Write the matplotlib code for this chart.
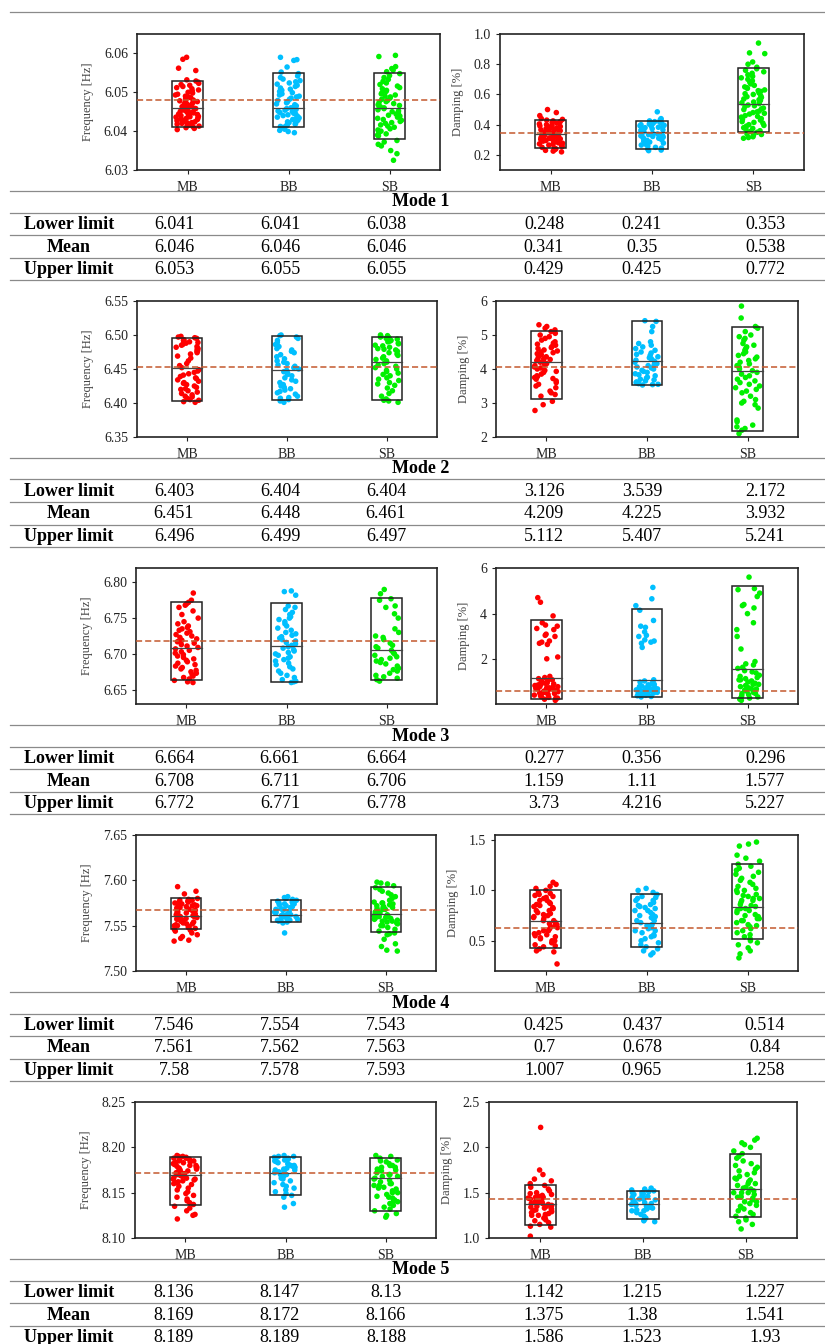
import numpy as np
import matplotlib
matplotlib.use("Agg")
import matplotlib.pyplot as plt
import seaborn as sns
from matplotlib.patches import Rectangle
from matplotlib.lines import Line2D

plt.rcParams['font.family'] = ['Liberation Serif', 'DejaVu Serif']

groups = ["MB", "BB", "SB"]
colors = {"MB": "#ff0000", "BB": "#00bfff", "SB": "#00f000"}

# ---- identified values ----
m1_freq_mb = [6.0404, 6.0407, 6.0409, 6.0412, 6.0413, 6.0415, 6.0417, 6.0418, 6.042, 6.0421, 6.0422, 6.0424,
              6.0425, 6.0427, 6.0429, 6.043, 6.0431, 6.0433, 6.0434, 6.0436, 6.0437, 6.0438, 6.044, 6.0441,
              6.0443, 6.0444, 6.0446, 6.0447, 6.0448, 6.045, 6.0451, 6.0452, 6.0454, 6.0455, 6.0457, 6.0458,
              6.0459, 6.0461, 6.0462, 6.0463, 6.0465, 6.0466, 6.0468, 6.047, 6.0471, 6.0473, 6.0475, 6.0476,
              6.0478, 6.048, 6.0482, 6.0484, 6.0486, 6.0488, 6.049, 6.0493, 6.0495, 6.0498, 6.05, 6.0503,
              6.0506, 6.0509, 6.0512, 6.0515, 6.0518, 6.052, 6.0523, 6.0526, 6.0529, 6.0532, 6.0556, 6.0562,
              6.0585, 6.059]
m1_freq_bb = [6.0396, 6.0399, 6.0402, 6.0405, 6.0407, 6.041, 6.0412, 6.0414, 6.0416, 6.0418, 6.042, 6.0422,
              6.0424, 6.0426, 6.0428, 6.043, 6.0432, 6.0434, 6.0436, 6.0438, 6.044, 6.0442, 6.0444, 6.0446,
              6.0448, 6.045, 6.0452, 6.0454, 6.0456, 6.0458, 6.046, 6.0463, 6.0465, 6.0468, 6.047, 6.0473,
              6.0476, 6.0479, 6.0482, 6.0485, 6.0488, 6.049, 6.0493, 6.0496, 6.0499, 6.0502, 6.0505, 6.0508,
              6.0511, 6.0515, 6.0518, 6.0521, 6.0524, 6.0527, 6.053, 6.0534, 6.0538, 6.0542, 6.0548, 6.0552,
              6.0565, 6.0582, 6.0584, 6.059]
m1_freq_sb = [6.0325, 6.0342, 6.035, 6.0362, 6.0366, 6.0372, 6.0376, 6.0388, 6.039, 6.0393, 6.0396, 6.04,
              6.0403, 6.0406, 6.041, 6.0413, 6.0416, 6.042, 6.0422, 6.0425, 6.0428, 6.043, 6.0433, 6.0436,
              6.0439, 6.0441, 6.0444, 6.0447, 6.045, 6.0452, 6.0455, 6.0458, 6.046, 6.0463, 6.0466, 6.0468,
              6.0471, 6.0474, 6.0476, 6.0479, 6.0482, 6.0485, 6.0488, 6.049, 6.0493, 6.0496, 6.0499, 6.0502,
              6.0505, 6.0509, 6.0512, 6.0516, 6.052, 6.0524, 6.0528, 6.0533, 6.0538, 6.0543, 6.0548, 6.0553,
              6.0557, 6.0561, 6.0566, 6.0592, 6.0595]
m1_damp_mb = [0.22, 0.225, 0.23, 0.235, 0.24, 0.245, 0.25, 0.255, 0.26, 0.265, 0.27, 0.273, 0.277, 0.28,
              0.284, 0.288, 0.291, 0.295, 0.298, 0.30, 0.303, 0.306, 0.309, 0.312, 0.315, 0.318, 0.321,
              0.324, 0.327, 0.33, 0.333, 0.336, 0.339, 0.342, 0.345, 0.348, 0.351, 0.354, 0.357, 0.36,
              0.363, 0.366, 0.37, 0.373, 0.377, 0.38, 0.384, 0.388, 0.392, 0.396, 0.40, 0.405, 0.41,
              0.415, 0.42, 0.425, 0.43, 0.435, 0.44, 0.46, 0.48, 0.50]
m1_damp_bb = [0.228, 0.232, 0.238, 0.245, 0.25, 0.258, 0.265, 0.27, 0.278, 0.285, 0.29, 0.296, 0.30, 0.305,
              0.31, 0.314, 0.318, 0.322, 0.326, 0.33, 0.334, 0.338, 0.342, 0.346, 0.35, 0.353, 0.356, 0.36,
              0.363, 0.366, 0.37, 0.373, 0.376, 0.38, 0.383, 0.386, 0.39, 0.393, 0.396, 0.40, 0.404, 0.408,
              0.412, 0.416, 0.42, 0.425, 0.43, 0.435, 0.44, 0.485]
m1_damp_sb = [0.31, 0.315, 0.32, 0.33, 0.335, 0.34, 0.35, 0.355, 0.36, 0.37, 0.375, 0.38, 0.39, 0.395, 0.40,
              0.41, 0.415, 0.42, 0.43, 0.435, 0.44, 0.45, 0.455, 0.46, 0.47, 0.475, 0.48, 0.485, 0.49, 0.50,
              0.505, 0.51, 0.52, 0.525, 0.53, 0.54, 0.545, 0.55, 0.56, 0.565, 0.57, 0.58, 0.585, 0.59, 0.60,
              0.605, 0.61, 0.62, 0.625, 0.63, 0.64, 0.645, 0.65, 0.66, 0.67, 0.68, 0.69, 0.70, 0.71, 0.72,
              0.73, 0.74, 0.75, 0.76, 0.77, 0.78, 0.80, 0.815, 0.87, 0.875, 0.94]

m2_freq_mb = [6.401, 6.402, 6.404, 6.405, 6.407, 6.409, 6.41, 6.412, 6.414, 6.416, 6.418, 6.42, 6.421, 6.423,
              6.425, 6.427, 6.429, 6.43, 6.432, 6.434, 6.436, 6.437, 6.439, 6.441, 6.443, 6.445, 6.447, 6.449,
              6.452, 6.455, 6.458, 6.462, 6.466, 6.469, 6.472, 6.474, 6.476, 6.477, 6.479, 6.48, 6.482, 6.483,
              6.485, 6.486, 6.488, 6.489, 6.49, 6.492, 6.493, 6.495, 6.496, 6.497, 6.498]
m2_freq_bb = [6.401, 6.403, 6.405, 6.407, 6.408, 6.41, 6.413, 6.415, 6.417, 6.419, 6.421, 6.423, 6.425, 6.427,
              6.43, 6.432, 6.434, 6.437, 6.44, 6.442, 6.444, 6.446, 6.448, 6.45, 6.452, 6.454, 6.456, 6.458,
              6.46, 6.462, 6.465, 6.468, 6.471, 6.474, 6.476, 6.478, 6.48, 6.483, 6.486, 6.489, 6.492, 6.495,
              6.497, 6.499, 6.5]
m2_freq_sb = [6.401, 6.403, 6.404, 6.406, 6.41, 6.414, 6.418, 6.422, 6.426, 6.428, 6.43, 6.433, 6.435, 6.437,
              6.44, 6.442, 6.444, 6.446, 6.448, 6.45, 6.452, 6.454, 6.456, 6.458, 6.46, 6.462, 6.464, 6.466,
              6.468, 6.47, 6.472, 6.474, 6.476, 6.478, 6.479, 6.48, 6.482, 6.484, 6.485, 6.487, 6.488, 6.49,
              6.491, 6.492, 6.494, 6.495, 6.496, 6.497, 6.498, 6.499, 6.5]
m2_damp_mb = [2.78, 2.95, 3.05, 3.2, 3.25, 3.3, 3.35, 3.45, 3.5, 3.55, 3.6, 3.65, 3.7, 3.72, 3.75, 3.78, 3.8,
              3.85, 3.9, 3.93, 3.96, 4.0, 4.03, 4.06, 4.1, 4.13, 4.16, 4.2, 4.22, 4.25, 4.28, 4.3, 4.33, 4.36,
              4.4, 4.42, 4.45, 4.48, 4.5, 4.53, 4.56, 4.6, 4.63, 4.66, 4.7, 4.73, 4.76, 4.8, 4.85, 4.9, 4.95,
              5.0, 5.05, 5.1, 5.15, 5.2, 5.25, 5.3]
m2_damp_bb = [3.53, 3.54, 3.55, 3.57, 3.6, 3.62, 3.65, 3.68, 3.7, 3.73, 3.76, 3.8, 3.83, 3.86, 3.9, 3.93, 3.96,
              4.0, 4.03, 4.06, 4.1, 4.13, 4.16, 4.2, 4.23, 4.26, 4.3, 4.33, 4.36, 4.4, 4.43, 4.47, 4.5, 4.55,
              4.6, 4.65, 4.7, 4.75, 4.8, 5.1, 5.25, 5.4, 5.42]
m2_damp_sb = [2.1, 2.2, 2.25, 2.3, 2.35, 2.45, 2.5, 2.85, 2.95, 3.0, 3.05, 3.1, 3.2, 3.3, 3.35, 3.4, 3.45, 3.5,
              3.55, 3.6, 3.65, 3.7, 3.75, 3.8, 3.85, 3.9, 3.95, 4.0, 4.05, 4.1, 4.15, 4.2, 4.25, 4.3, 4.35,
              4.4, 4.45, 4.5, 4.55, 4.6, 4.65, 4.7, 4.75, 4.85, 4.9, 4.95, 5.0, 5.1, 5.2, 5.25, 5.5, 5.85]

m3_freq_mb = [6.66, 6.661, 6.663, 6.665, 6.667, 6.669, 6.671, 6.673, 6.675, 6.677, 6.679, 6.681, 6.683, 6.685,
              6.687, 6.689, 6.691, 6.693, 6.695, 6.697, 6.699, 6.701, 6.703, 6.705, 6.707, 6.709, 6.711, 6.713,
              6.715, 6.717, 6.719, 6.721, 6.723, 6.725, 6.727, 6.729, 6.731, 6.733, 6.735, 6.737, 6.739, 6.742,
              6.745, 6.75, 6.755, 6.76, 6.765, 6.768, 6.77, 6.772, 6.775, 6.785]
m3_freq_bb = [6.66, 6.661, 6.662, 6.664, 6.667, 6.67, 6.673, 6.676, 6.679, 6.682, 6.685, 6.687, 6.69, 6.692,
              6.694, 6.696, 6.698, 6.7, 6.702, 6.704, 6.706, 6.708, 6.71, 6.712, 6.714, 6.716, 6.718, 6.72,
              6.722, 6.724, 6.726, 6.728, 6.73, 6.733, 6.736, 6.739, 6.742, 6.745, 6.748, 6.75, 6.752, 6.755,
              6.758, 6.762, 6.765, 6.767, 6.782, 6.787, 6.788]
m3_freq_sb = [6.662, 6.664, 6.666, 6.668, 6.67, 6.673, 6.676, 6.678, 6.68, 6.683, 6.686, 6.688, 6.69, 6.692,
              6.694, 6.696, 6.698, 6.7, 6.702, 6.705, 6.708, 6.71, 6.712, 6.715, 6.72, 6.723, 6.725, 6.73,
              6.735, 6.75, 6.756, 6.765, 6.767, 6.775, 6.777, 6.784, 6.79]
m3_damp_mb = [0.2, 0.25, 0.3, 0.33, 0.36, 0.4, 0.43, 0.46, 0.5, 0.52, 0.55, 0.58, 0.6, 0.62, 0.65, 0.67, 0.7,
              0.72, 0.75, 0.77, 0.8, 0.82, 0.85, 0.87, 0.9, 0.92, 0.95, 0.97, 1.0, 1.03, 1.06, 1.1, 1.15, 1.2,
              1.25, 0.3, 0.45, 0.55, 0.65, 0.7, 0.75, 0.8, 0.9, 0.6, 0.85, 2.02, 2.1, 2.65, 2.7, 2.75, 2.8,
              3.0, 3.05, 3.1, 3.3, 3.35, 3.45, 3.5, 3.6, 3.9, 4.5, 4.7]
m3_damp_bb = [0.35, 0.37, 0.4, 0.42, 0.45, 0.47, 0.5, 0.52, 0.55, 0.57, 0.6, 0.62, 0.64, 0.66, 0.68, 0.7, 0.72,
              0.74, 0.76, 0.78, 0.8, 0.82, 0.85, 0.88, 0.9, 0.95, 1.0, 1.05, 1.1, 0.5, 0.6, 0.7, 0.45, 0.55,
              0.65, 2.52, 2.7, 2.75, 2.8, 2.85, 3.0, 3.05, 3.2, 3.4, 3.45, 3.7, 4.15, 4.35, 4.65, 5.15]
m3_damp_sb = [0.2, 0.25, 0.3, 0.35, 0.4, 0.45, 0.5, 0.55, 0.6, 0.65, 0.7, 0.75, 0.8, 0.85, 0.9, 0.95, 1.0,
              1.05, 1.1, 1.15, 1.2, 1.25, 1.3, 1.4, 1.45, 1.5, 1.6, 1.65, 1.75, 1.8, 1.9, 0.3, 0.5, 0.7, 0.9,
              1.1, 2.45, 3.0, 3.3, 3.6, 4.0, 4.25, 4.35, 4.4, 4.75, 4.9, 5.05, 5.1, 5.6]

m4_freq_mb = [7.533, 7.534, 7.536, 7.538, 7.54, 7.542, 7.544, 7.545, 7.546, 7.547, 7.548, 7.549, 7.55, 7.551,
              7.552, 7.553, 7.554, 7.555, 7.556, 7.557, 7.558, 7.559, 7.56, 7.561, 7.562, 7.563, 7.564, 7.565,
              7.566, 7.567, 7.568, 7.569, 7.57, 7.571, 7.572, 7.573, 7.574, 7.575, 7.576, 7.577, 7.578, 7.579,
              7.58, 7.55, 7.555, 7.56, 7.565, 7.57, 7.575, 7.552, 7.558, 7.562, 7.568, 7.572, 7.578, 7.585,
              7.588, 7.593]
m4_freq_bb = [7.542, 7.553, 7.554, 7.555, 7.556, 7.557, 7.558, 7.559, 7.56, 7.561, 7.562, 7.563, 7.564, 7.565,
              7.566, 7.567, 7.568, 7.569, 7.57, 7.571, 7.572, 7.573, 7.574, 7.575, 7.576, 7.577, 7.578, 7.579,
              7.58, 7.581, 7.582, 7.556, 7.559, 7.562, 7.565, 7.568, 7.571, 7.574]
m4_freq_sb = [7.522, 7.523, 7.527, 7.53, 7.535, 7.54, 7.541, 7.542, 7.544, 7.546, 7.548, 7.55, 7.551, 7.552,
              7.553, 7.554, 7.555, 7.556, 7.557, 7.558, 7.559, 7.56, 7.561, 7.562, 7.563, 7.564, 7.565, 7.566,
              7.567, 7.568, 7.569, 7.57, 7.571, 7.572, 7.573, 7.574, 7.575, 7.576, 7.578, 7.58, 7.582, 7.584,
              7.586, 7.588, 7.59, 7.592, 7.594, 7.596, 7.597, 7.598, 7.55, 7.555, 7.56, 7.565, 7.57, 7.575,
              7.558, 7.562, 7.568]
m4_damp_mb = [0.27, 0.39, 0.4, 0.42, 0.44, 0.46, 0.48, 0.5, 0.52, 0.54, 0.56, 0.58, 0.6, 0.62, 0.64, 0.66,
              0.68, 0.7, 0.72, 0.74, 0.76, 0.78, 0.8, 0.82, 0.84, 0.86, 0.88, 0.9, 0.92, 0.94, 0.96, 0.98, 1.0,
              1.02, 1.04, 1.06, 1.08, 0.5, 0.55, 0.6, 0.65, 0.7, 0.75, 0.8, 0.85, 0.9, 0.95, 0.45, 0.53, 0.63,
              0.73, 0.83, 0.93, 0.57, 0.67, 0.77, 0.87, 0.97]
m4_damp_bb = [0.36, 0.38, 0.4, 0.42, 0.44, 0.46, 0.48, 0.5, 0.52, 0.54, 0.56, 0.58, 0.6, 0.62, 0.64, 0.66,
              0.68, 0.7, 0.72, 0.74, 0.76, 0.78, 0.8, 0.82, 0.84, 0.86, 0.88, 0.9, 0.92, 0.94, 0.96, 0.98, 1.0,
              1.02, 0.55, 0.6, 0.65, 0.7, 0.75, 0.8, 0.85, 0.9, 0.63, 0.73, 0.83, 0.93]
m4_damp_sb = [0.33, 0.37, 0.4, 0.43, 0.46, 0.48, 0.5, 0.52, 0.54, 0.56, 0.58, 0.6, 0.62, 0.64, 0.66, 0.68,
              0.7, 0.72, 0.74, 0.76, 0.78, 0.8, 0.82, 0.84, 0.86, 0.88, 0.9, 0.92, 0.94, 0.96, 0.98, 1.0, 1.02,
              1.04, 1.06, 1.08, 1.1, 1.12, 1.14, 1.16, 1.18, 1.2, 1.22, 1.24, 1.26, 1.29, 1.32, 1.35, 1.44,
              1.46, 1.48, 0.7, 0.75, 0.8, 0.85, 0.9, 0.95, 1.0, 0.65, 0.72, 0.82, 0.92]

m5_freq_mb = [8.121, 8.125, 8.126, 8.13, 8.133, 8.135, 8.137, 8.139, 8.141, 8.143, 8.145, 8.147, 8.149, 8.151,
              8.153, 8.155, 8.157, 8.159, 8.16, 8.161, 8.162, 8.163, 8.164, 8.165, 8.166, 8.167, 8.168, 8.169,
              8.17, 8.171, 8.172, 8.173, 8.174, 8.175, 8.176, 8.177, 8.178, 8.179, 8.18, 8.181, 8.182, 8.183,
              8.184, 8.185, 8.186, 8.187, 8.188, 8.189, 8.19, 8.191, 8.165, 8.17, 8.175, 8.18, 8.185, 8.19,
              8.172, 8.178, 8.183, 8.188]
m5_freq_bb = [8.134, 8.138, 8.145, 8.147, 8.149, 8.151, 8.153, 8.155, 8.157, 8.159, 8.161, 8.163, 8.165, 8.166,
              8.167, 8.168, 8.169, 8.17, 8.171, 8.172, 8.173, 8.174, 8.175, 8.176, 8.177, 8.178, 8.179, 8.18,
              8.181, 8.182, 8.183, 8.184, 8.185, 8.186, 8.187, 8.188, 8.189, 8.19, 8.191, 8.17, 8.175, 8.18,
              8.185, 8.19, 8.186]
m5_freq_sb = [8.123, 8.125, 8.127, 8.13, 8.132, 8.134, 8.136, 8.138, 8.14, 8.142, 8.144, 8.146, 8.148, 8.15,
              8.152, 8.154, 8.156, 8.158, 8.16, 8.162, 8.164, 8.166, 8.168, 8.17, 8.172, 8.174, 8.176, 8.178,
              8.18, 8.182, 8.184, 8.186, 8.188, 8.19, 8.191, 8.145, 8.155, 8.165, 8.175, 8.185, 8.15, 8.16,
              8.17, 8.18, 8.14, 8.158, 8.168, 8.178]
m5_damp_mb = [1.02, 1.12, 1.13, 1.15, 1.17, 1.19, 1.2, 1.22, 1.23, 1.25, 1.26, 1.27, 1.28, 1.29, 1.3, 1.31,
              1.32, 1.33, 1.34, 1.35, 1.36, 1.37, 1.38, 1.39, 1.4, 1.41, 1.42, 1.43, 1.44, 1.45, 1.46, 1.47,
              1.48, 1.49, 1.5, 1.52, 1.54, 1.56, 1.58, 1.6, 1.63, 1.65, 1.7, 1.75, 2.22, 1.3, 1.35, 1.4, 1.45,
              1.25, 1.38, 1.42, 1.33]
m5_damp_bb = [1.18, 1.19, 1.2, 1.22, 1.24, 1.26, 1.28, 1.3, 1.31, 1.32, 1.33, 1.34, 1.35, 1.36, 1.37, 1.38,
              1.39, 1.4, 1.41, 1.42, 1.43, 1.44, 1.45, 1.46, 1.47, 1.48, 1.49, 1.5, 1.51, 1.52, 1.53, 1.54,
              1.55, 1.35, 1.4, 1.45, 1.5, 1.3, 1.38, 1.43]
m5_damp_sb = [1.1, 1.15, 1.18, 1.2, 1.22, 1.24, 1.26, 1.28, 1.3, 1.32, 1.34, 1.36, 1.38, 1.4, 1.42, 1.44, 1.46,
              1.48, 1.5, 1.52, 1.54, 1.56, 1.58, 1.6, 1.62, 1.64, 1.66, 1.68, 1.7, 1.72, 1.74, 1.76, 1.78,
              1.8, 1.82, 1.85, 1.88, 1.9, 1.93, 1.96, 2.0, 2.03, 2.05, 2.08, 2.1, 1.4, 1.45, 1.5, 1.55, 1.6,
              1.35, 1.65, 1.5, 1.45]

# ---- table values: lower limit / mean / upper limit per band ----
freq_lower = [[6.041, 6.041, 6.038], [6.403, 6.404, 6.404], [6.664, 6.661, 6.664],
              [7.546, 7.554, 7.543], [8.136, 8.147, 8.13]]
freq_mean = [[6.046, 6.046, 6.046], [6.451, 6.448, 6.461], [6.708, 6.711, 6.706],
             [7.561, 7.562, 7.563], [8.169, 8.172, 8.166]]
freq_upper = [[6.053, 6.055, 6.055], [6.496, 6.499, 6.497], [6.772, 6.771, 6.778],
              [7.58, 7.578, 7.593], [8.189, 8.189, 8.188]]
damp_lower = [[0.248, 0.241, 0.353], [3.126, 3.539, 2.172], [0.277, 0.356, 0.296],
              [0.425, 0.437, 0.514], [1.142, 1.215, 1.227]]
damp_mean = [[0.341, 0.35, 0.538], [4.209, 4.225, 3.932], [1.159, 1.11, 1.577],
             [0.7, 0.678, 0.84], [1.375, 1.38, 1.541]]
damp_upper = [[0.429, 0.425, 0.772], [5.112, 5.407, 5.241], [3.73, 4.216, 5.227],
              [1.007, 0.965, 1.258], [1.586, 1.523, 1.93]]

# reference (dashed) values
freq_ref = [6.048, 6.4535, 6.718, 7.567, 8.172]
damp_ref = [0.344, 4.06, 0.61, 0.626, 1.427]

freq_ylim = [(6.03, 6.065), (6.35, 6.55), (6.63, 6.82), (7.50, 7.65), (8.10, 8.25)]
damp_ylim = [(0.1, 1.0), (2, 6), (0.04, 6.0), (0.2, 1.55), (1.0, 2.5)]
freq_ticks = [[6.03, 6.04, 6.05, 6.06], [6.35, 6.40, 6.45, 6.50, 6.55], [6.65, 6.70, 6.75, 6.80],
              [7.50, 7.55, 7.60, 7.65], [8.10, 8.15, 8.20, 8.25]]
damp_ticks = [[0.2, 0.4, 0.6, 0.8, 1.0], [2, 3, 4, 5, 6], [2, 4, 6], [0.5, 1.0, 1.5], [1.0, 1.5, 2.0, 2.5]]
freq_fmt = ["{:.2f}"] * 5
damp_fmt = ["{:.1f}", "{:.0f}", "{:.0f}", "{:.1f}", "{:.1f}"]

freq_data = [[m1_freq_mb, m1_freq_bb, m1_freq_sb], [m2_freq_mb, m2_freq_bb, m2_freq_sb],
             [m3_freq_mb, m3_freq_bb, m3_freq_sb], [m4_freq_mb, m4_freq_bb, m4_freq_sb],
             [m5_freq_mb, m5_freq_bb, m5_freq_sb]]
damp_data = [[m1_damp_mb, m1_damp_bb, m1_damp_sb], [m2_damp_mb, m2_damp_bb, m2_damp_sb],
             [m3_damp_mb, m3_damp_bb, m3_damp_sb], [m4_damp_mb, m4_damp_bb, m4_damp_sb],
             [m5_damp_mb, m5_damp_bb, m5_damp_sb]]

# ---- layout in pixels ----
W, H = 825, 1344
tops = [34, 301, 568, 835, 1102]
ax_h = 136
freq_lr = [(137, 440), (137, 437), (136, 437), (136, 436), (135, 436)]
damp_lr = [(500, 804), (496, 798), (496, 798), (495, 798), (489, 797)]
col_x = [69, 174, 280, 386, 544, 642, 765]

fig = plt.figure(figsize=(W / 100, H / 100), dpi=100)
np.random.seed(7)


def add_px_axes(left, right, top):
    return fig.add_axes([left / W, 1 - (top + ax_h) / H, (right - left) / W, ax_h / H])


def fig_line(y):
    fig.add_artist(Line2D([10 / W, 1.0], [1 - y / H, 1 - y / H], color="#8a8a8a", lw=0.9,
                          transform=fig.transFigure, zorder=10))


def draw_panel(ax, data, lower, mean, upper, ref, ylim, ticks, fmt, ylabel):
    xs, ys = [], []
    for g, vals in zip(groups, data):
        xs += [g] * len(vals)
        ys += vals
    sns.stripplot(x=xs, y=ys, hue=xs, order=groups, hue_order=groups, palette=colors,
                  jitter=0.12, size=4.0, linewidth=0, legend=False, ax=ax, zorder=2)
    for i in range(3):
        ax.add_patch(Rectangle((i - 0.153, lower[i]), 0.306, upper[i] - lower[i], fill=False,
                               ec="#222222", lw=1.1, zorder=4))
        ax.plot([i - 0.153, i + 0.153], [mean[i], mean[i]], color="#444444", lw=0.9, zorder=4)
    ax.axhline(ref, color="#c4582d", lw=1.1, ls=(0, (4, 2)), zorder=5)
    ax.set_xlim(-0.5, 2.5)
    ax.set_ylim(*ylim)
    ax.set_yticks(ticks, [fmt.format(t) for t in ticks])
    ax.set_xticks([0, 1, 2], groups)
    ax.set_ylabel(ylabel, fontsize=9, color="#444444", labelpad=7)
    ax.set_xlabel("")
    ax.tick_params(axis="both", labelsize=10, length=3, width=0.8, colors="#222222")
    ax.tick_params(axis="x", pad=5)
    for sp in ax.spines.values():
        sp.set_linewidth(1.2)
        sp.set_color("#222222")


fig_line(12)
for m in range(5):
    top = tops[m]
    bot = top + ax_h
    axf = add_px_axes(*freq_lr[m], top)
    draw_panel(axf, freq_data[m], freq_lower[m], freq_mean[m], freq_upper[m], freq_ref[m],
               freq_ylim[m], freq_ticks[m], freq_fmt[m], "Frequency [Hz]")
    axd = add_px_axes(*damp_lr[m], top)
    draw_panel(axd, damp_data[m], damp_lower[m], damp_mean[m], damp_upper[m], damp_ref[m],
               damp_ylim[m], damp_ticks[m], damp_fmt[m], "Damping [%]")

    # table under the panels
    for off in [20.5, 42.5, 65, 87.7, 109.5]:
        fig_line(bot + off)
    fig.text(421 / W, 1 - (bot + 32) / H, f"Mode {m + 1}", ha="center", va="center",
             fontsize=13, fontweight="bold")
    rows = [("Lower limit", freq_lower[m], damp_lower[m]),
            ("Mean", freq_mean[m], damp_mean[m]),
            ("Upper limit", freq_upper[m], damp_upper[m])]
    for r, (name, fv, dv) in enumerate(rows):
        y = 1 - (bot + 54.5 + 22.5 * r) / H
        fig.text(col_x[0] / W, y, name, ha="center", va="center", fontsize=13, fontweight="bold")
        for c, v in enumerate(fv + dv):
            fig.text(col_x[c + 1] / W, y, f"{v:g}", ha="center", va="center", fontsize=13)

fig.savefig("out.png", dpi=100)
